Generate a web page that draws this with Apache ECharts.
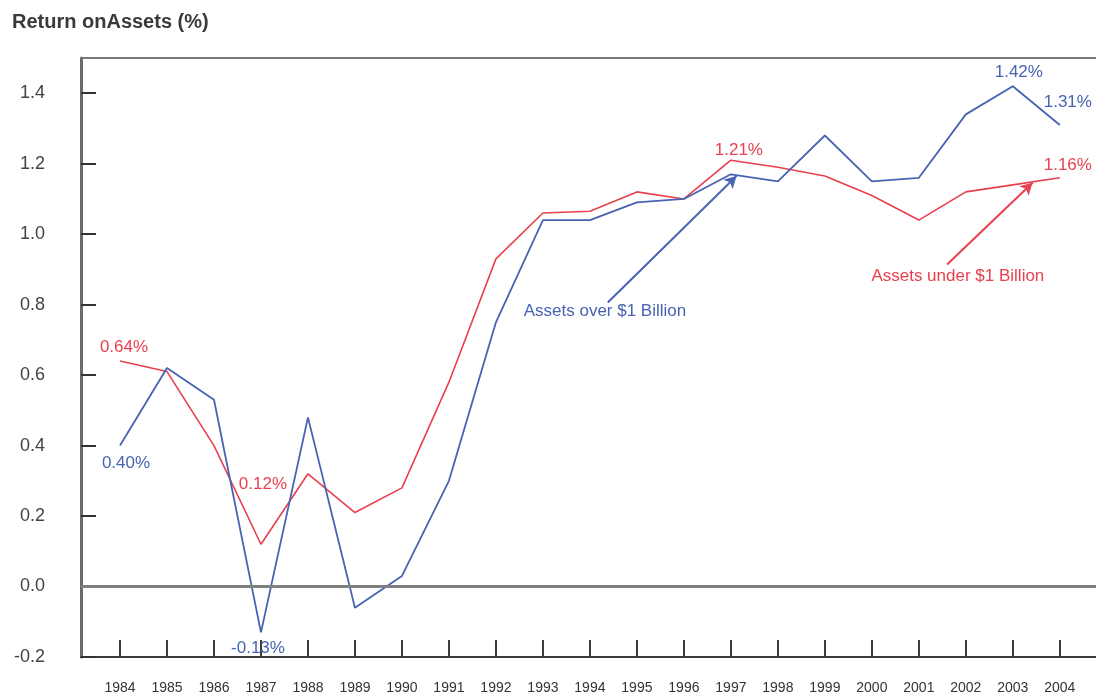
<!DOCTYPE html>
<html>
<head>
<meta charset="utf-8">
<script src="https://cdn.jsdelivr.net/npm/echarts@6/dist/echarts.min.js"></script>
<style>
  html, body { margin: 0; padding: 0; background: #fff; }
  #chart { width: 1096px; height: 696px; }
</style>
</head>
<body>
<div id="chart"></div>
<script>
// years on the x axis
var years = [1984, 1985, 1986, 1987, 1988, 1989, 1990, 1991, 1992, 1993, 1994,
  1995, 1996, 1997, 1998, 1999, 2000, 2001, 2002, 2003, 2004];
// return on assets, %
var overBillion = [0.40, 0.62, 0.53, -0.13, 0.48, -0.06, 0.03, 0.30, 0.75, 1.04, 1.04,
  1.09, 1.10, 1.17, 1.15, 1.28, 1.15, 1.16, 1.34, 1.42, 1.31];
var underBillion = [0.64, 0.61, 0.40, 0.12, 0.32, 0.21, 0.28, 0.58, 0.93, 1.06, 1.065,
  1.12, 1.10, 1.21, 1.19, 1.165, 1.11, 1.04, 1.12, 1.14, 1.16];
var yTicks = [-0.2, 0.0, 0.2, 0.4, 0.6, 0.8, 1.0, 1.2, 1.4];

var BLUE = '#4763b2';
var RED = '#e8404f';

// which points get a value label, and where
var overLabels = { 0: ['bottom', [6, 4]], 3: ['bottom', [-3, 2]], 19: ['top', [6, 0]], 20: ['top', [8, -9]] };
var underLabels = { 0: ['top', [4, 0]], 3: ['top', [2, -46]], 13: ['top', [8, 4]], 20: ['top', [8, 1]] };

function buildData(values, labels, color) {
  return values.map(function (v, i) {
    var item = { value: [years[i], v] };
    if (labels[i]) {
      item.label = {
        show: true,
        position: labels[i][0],
        offset: labels[i][1],
        color: color,
        fontSize: 17,
        fontFamily: 'Liberation Sans',
        formatter: v.toFixed(2) + '%'
      };
    }
    return item;
  });
}

function annotation(text, color, textAt, from, to) {
  return {
    markPoint: {
      silent: true,
      symbolSize: 0,
      data: [{
        coord: textAt,
        label: { show: true, position: 'inside', formatter: text, color: color, fontSize: 17, fontFamily: 'Liberation Sans' }
      }]
    },
    markLine: {
      silent: true,
      symbol: ['none', 'arrow'],
      symbolSize: [10, 12],
      label: { show: false },
      lineStyle: { color: color, width: 2, type: 'solid' },
      data: [[{ coord: from }, { coord: to }]]
    }
  };
}

var chart = echarts.init(document.getElementById('chart'));

var blueNote = annotation('Assets over $1 Billion', BLUE, [1994.32, 0.78], [1994.38, 0.806], [1997.12, 1.165]);
var redNote = annotation('Assets under $1 Billion', RED, [2001.83, 0.88], [2001.6, 0.914], [2003.42, 1.146]);

var option = {
  animation: false,
  title: {
    text: 'Return onAssets (%)',
    left: 7,
    top: 7,
    textStyle: { fontFamily: 'Liberation Sans', fontSize: 20, fontWeight: 'bold', color: '#3a3a3a' }
  },
  grid: { left: 81, right: 0, top: 58, bottom: 39, outerBoundsMode: 'none' },
  xAxis: [{
    type: 'value',
    min: 1983.17,
    max: 2004.77,
    axisLine: { show: true, onZero: false, lineStyle: { color: '#3c3c3c', width: 2 } },
    splitLine: { show: false },
    axisTick: { show: true, inside: true, length: 17, customValues: years, lineStyle: { color: '#3c3c3c', width: 2 } },
    axisLabel: {
      customValues: years,
      margin: 24,
      fontSize: 14,
      fontFamily: 'Liberation Sans',
      color: '#333',
      formatter: function (v) { return String(Math.round(v)); }
    }
  }, {
    type: 'value',
    position: 'top',
    min: 1983.17,
    max: 2004.77,
    axisLine: { show: true, onZero: false, lineStyle: { color: '#777', width: 2 } },
    axisTick: { show: false },
    axisLabel: { show: false },
    splitLine: { show: false }
  }],
  yAxis: {
    type: 'value',
    min: -0.2,
    max: 1.5,
    axisLine: { show: true, onZero: false, lineStyle: { color: '#6a6a6a', width: 3 } },
    splitLine: { show: false },
    axisTick: { show: true, inside: true, length: 15, customValues: yTicks, lineStyle: { color: '#333', width: 2 } },
    axisLabel: {
      customValues: yTicks,
      margin: 36,
      fontSize: 18,
      fontFamily: 'Liberation Sans',
      color: '#444',
      formatter: function (v) { return v.toFixed(1); }
    }
  },
  series: [{
    name: 'Assets over $1 Billion',
    type: 'line',
    data: buildData(overBillion, overLabels, BLUE),
    symbol: 'circle',
    symbolSize: 0,
    lineStyle: { color: BLUE, width: 1.8 },
    itemStyle: { color: BLUE },
    emphasis: { disabled: true },
    z: 3,
    markPoint: blueNote.markPoint,
    markLine: blueNote.markLine
  }, {
    name: 'Assets under $1 Billion',
    type: 'line',
    data: buildData(underBillion, underLabels, RED),
    symbol: 'circle',
    symbolSize: 0,
    lineStyle: { color: RED, width: 1.6 },
    itemStyle: { color: RED },
    emphasis: { disabled: true },
    z: 2,
    markPoint: redNote.markPoint,
    markLine: redNote.markLine
  }, {
    // zero reference line
    type: 'line',
    data: [],
    silent: true,
    z: 1,
    markLine: {
      silent: true,
      symbol: 'none',
      label: { show: false },
      lineStyle: { color: '#808080', width: 3, type: 'solid' },
      data: [{ yAxis: 0 }]
    }
  }]
};

chart.setOption(option);
</script>
</body>
</html>
